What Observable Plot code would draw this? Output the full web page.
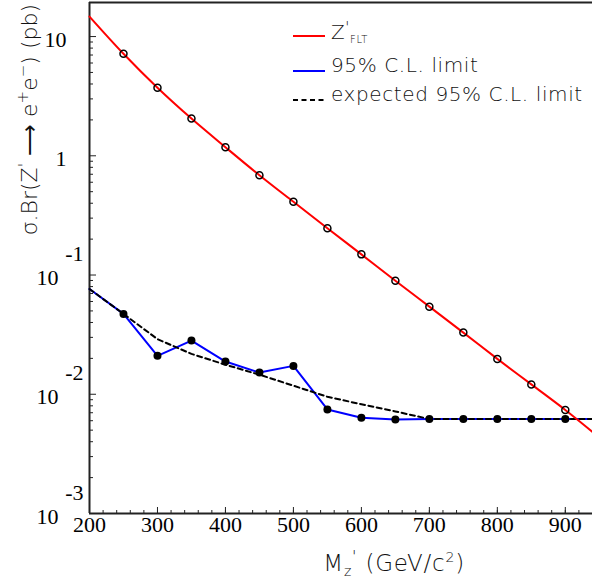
<!DOCTYPE html>
<html><head><meta charset="utf-8">
<script src="https://cdn.jsdelivr.net/npm/d3@7"></script>
<script src="https://cdn.jsdelivr.net/npm/@observablehq/plot@0.6"></script>
<style>html,body{margin:0;padding:0;background:#fff}svg{display:block}</style>
</head><body><div id="chart"></div>
<script>
// ---- data ----
const mass = [200,250,300,350,400,450,500,550,600,650,700,750,800,850,900,940];
const zFLT = [14.7,7.17,3.72,2.05,1.18,0.687,0.411,0.247,0.149,0.0896,0.0543,0.0329,0.0198,0.0121,0.00738,0.00483];
const observed = [0.0763,0.0472,0.0210,0.0282,0.0188,0.0152,0.0173,0.00746,0.00636,0.00615,0.0062,0.0062,0.0062,0.0062,0.0062,0.0062];
const expected = [0.0763,0.0472,0.029,0.0218,0.0177,0.0146,0.0118,0.00953,0.00824,0.00718,0.0062,0.0062,0.0062,0.0062,0.0062,0.0062];
const markerMass = [250,300,350,400,450,500,550,600,650,700,750,800,850,900];

const xMajor = [200,300,400,500,600,700,800,900];
const xMinor = d3.range(200, 941, 20);
const yMajor = [10,1,0.1,0.01,0.001];
const yBase = ["10","1","10","10","10"];
const yExp = ["","","-1","-2","-3"];
const yMinor = [];
for (const e of [-3,-2,-1,0,1]) for (let k = 2; k <= 9; k++) { const v = k*Math.pow(10,e); if (v < 19.3) yMinor.push(v); }

const rows = mass.map((m,i) => ({m, z: zFLT[i], obs: observed[i], exp: expected[i]}));
const markers = rows.filter(r => markerMass.includes(r.m));

const W = 592, H = 586, mL = 89, mT = 2, mB = 73, mR = 0;
const innerW = W - mL - mR, innerH = H - mT - mB;
const serif = "'Liberation Serif', 'Times New Roman', serif";
const sans = "'DejaVu Sans', sans-serif";

function svgText(parent, x, y, parts, opts = {}) {
  const t = parent.append("text").attr("x", x).attr("y", y)
    .attr("font-family", sans).attr("font-weight", 200).attr("font-size", opts.size || 20)
    .attr("fill", "#111").attr("text-anchor", opts.anchor || "start");
  if (opts.spacing) t.attr("letter-spacing", opts.spacing);
  if (opts.transform) t.attr("transform", opts.transform).attr("x", 0).attr("y", 0);
  for (const p of parts) {
    const s = t.append("tspan").text(p.t);
    if (p.size) s.attr("font-size", p.size);
    if (p.dy) s.attr("dy", p.dy);
  }
  return t;
}

const titles = () => {
  const g = d3.create("svg:g");
  // y title
  svgText(g, 0, 0, [
    {t: "σ.Br(Z"}, {t: "'", dy: -7, size: 16}, {t: " ⟶ e", dy: 7}, {t: "+", dy: -9, size: 15},
    {t: "e", dy: 9}, {t: "−", dy: -9, size: 15}, {t: ") (pb)", dy: 9}
  ], {anchor: "end", size: 22, transform: "translate(37,4) rotate(-90)"});
  // x title
  svgText(g, 465, 571, [
    {t: "M"}, {t: "z", dy: 5, size: 14}, {t: "'", dy: -14, size: 16}, {t: " (GeV/c", dy: 9}, {t: "2", dy: -9, size: 14}, {t: ")", dy: 9}
  ], {anchor: "end", size: 23, spacing: 0.8});
  // legend
  const L = [
    {y: 36, stroke: "#ff0000", dash: null, parts: [{t: "Z"}, {t: "'", dy: -6, size: 15}, {t: "FLT", dy: 10, size: 10}], ty: 39},
    {y: 71, stroke: "#0000ff", dash: null, parts: [{t: "95% C.L. limit"}], ty: 72},
    {y: 100, stroke: "#000", dash: "5,3.5", parts: [{t: "expected 95% C.L. limit"}], ty: 101}
  ];
  for (const r of L) {
    const ln = g.append("line").attr("x1", 293).attr("x2", 325).attr("y1", r.y).attr("y2", r.y)
      .attr("stroke", r.stroke).attr("stroke-width", 2);
    if (r.dash) ln.attr("stroke-dasharray", r.dash);
    svgText(g, 331, r.ty, r.parts, {size: 20, spacing: 0.6});
  }
  return g.node();
};

const chart = Plot.plot({
  width: W, height: H, marginLeft: mL, marginTop: mT, marginBottom: mB, marginRight: mR,
  x: {domain: [200, 940], axis: null},
  y: {type: "log", domain: [1e-3, 19.3], axis: null},
  style: {background: "white", overflow: "visible"},
  marks: [
    // frame (left, bottom, top)
    Plot.ruleX([200], {stroke: "#222", strokeWidth: 2}),
    Plot.ruleY([1e-3], {stroke: "#222", strokeWidth: 2}),
    Plot.ruleY([19.3], {stroke: "#222", strokeWidth: 2}),
    // ticks
    Plot.tickX(xMinor, {x: d => d, insetTop: innerH - 3, stroke: "#222", strokeWidth: 1}),
    Plot.tickX(xMajor, {x: d => d, insetTop: innerH - 6, stroke: "#222", strokeWidth: 1}),
    Plot.tickY(yMinor, {y: d => d, insetRight: innerW - 4, stroke: "#222", strokeWidth: 1}),
    Plot.tickY(yMajor, {y: d => d, insetRight: innerW - 7, stroke: "#222", strokeWidth: 1}),
    // tick labels
    Plot.text(xMajor, {x: d => d, frameAnchor: "bottom", dy: 18, fontSize: 22, fontFamily: serif, fill: "#000"}),
    Plot.text(yMajor.filter((d,i) => !yExp[i]), {y: d => d, text: d => yBase[yMajor.indexOf(d)], frameAnchor: "left", dx: -23, dy: 3, textAnchor: "end", fontSize: 22, fontFamily: serif, fill: "#000"}),
    Plot.text(yMajor.filter((d,i) => yExp[i]), {y: d => d, text: d => yBase[yMajor.indexOf(d)], frameAnchor: "left", dx: -31, dy: 3, textAnchor: "end", fontSize: 22, fontFamily: serif, fill: "#000"}),
    Plot.text(yMajor.filter((d,i) => yExp[i]), {y: d => d, text: d => yExp[yMajor.indexOf(d)], frameAnchor: "left", dx: -6, dy: -21, textAnchor: "end", fontSize: 22, fontFamily: serif, fill: "#000"}),
    // data
    Plot.line(rows, {x: "m", y: "obs", stroke: "#0000ff", strokeWidth: 2}),
    Plot.line(rows, {x: "m", y: "exp", stroke: "#000", strokeWidth: 2, strokeDasharray: "5,3.5"}),
    Plot.dot(markers, {x: "m", y: "obs", r: 4, fill: "#000", stroke: "none"}),
    Plot.line(rows, {x: "m", y: "z", stroke: "#ff0000", strokeWidth: 2, curve: "catmull-rom"}),
    Plot.dot(markers, {x: "m", y: "z", r: 3.5, fill: "none", stroke: "#000", strokeWidth: 1.5}),
    titles
  ]
});
document.getElementById("chart").appendChild(chart);
</script>
</body></html>
